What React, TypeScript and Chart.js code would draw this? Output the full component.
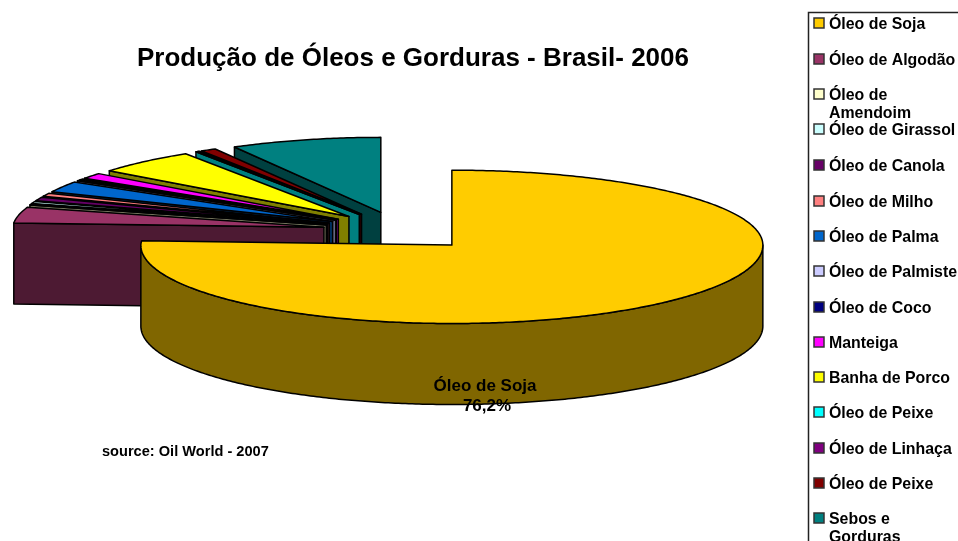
import React, { useEffect, useRef } from "react";
import { Chart, registerables } from "chart.js";

Chart.register(...registerables);

const titleText = "Produção de Óleos e Gorduras - Brasil- 2006";
const sourceText = "source: Oil World - 2007";
const categories = ["Óleo de Soja", "Óleo de Algodão", "Óleo de Amendoim", "Óleo de Girassol", "Óleo de Canola", "Óleo de Milho", "Óleo de Palma", "Óleo de Palmiste", "Óleo de Coco", "Manteiga", "Banha de Porco", "Óleo de Peixe", "Óleo de Linhaça", "Óleo de Peixe", "Sebos e Gorduras"];
const legendLines = [["Óleo de Soja"], ["Óleo de Algodão"], ["Óleo de", "Amendoim"], ["Óleo de Girassol"], ["Óleo de Canola"], ["Óleo de Milho"], ["Óleo de Palma"], ["Óleo de Palmiste"], ["Óleo de Coco"], ["Manteiga"], ["Banha de Porco"], ["Óleo de Peixe"], ["Óleo de Linhaça"], ["Óleo de Peixe"], ["Sebos e", "Gorduras"]];
const values = [76.2, 3.7, 0.2, 0.5, 0.8, 0.7, 2.3, 0.2, 0.2, 1.2, 5.2, 0.1, 0.1, 0.8, 7.8];
const colors = ["#FFCC00", "#993366", "#FFFFCC", "#CCFFFF", "#660066", "#FF8080", "#0066CC", "#CCCCFF", "#000080", "#FF00FF", "#FFFF00", "#00FFFF", "#800080", "#800000", "#008080"];
const wallColors = ["#806600", "#4D1A33", "#808066", "#668080", "#330033", "#804040", "#003366", "#666680", "#000040", "#800080", "#808000", "#008080", "#400040", "#400000", "#004040"];

const FONT = '"Liberation Sans", Arial, sans-serif';
const K_BACK = 0.241;
const K_FRONT = 0.252;
const DEPTH = 81;
const LEFT_BACK_FLATTEN = 1.1;

const pie3dPlugin = {
  id: "pie3d",
  beforeDatasetDraw(chart: any) {
    const ctx = chart.ctx;
    const arcs = chart.getDatasetMeta(0).data;
    ctx.save();
    ctx.lineWidth = 1.5;
    ctx.strokeStyle = "#000";
    ctx.lineJoin = "round";
    for (let i = arcs.length - 1; i >= 0; i--) {
      const arc = arcs[i];
      const { x, y, startAngle, endAngle, outerRadius } = arc;
      const off = arc.options.offset;
      const mid = (startAngle + endAngle) / 2;
      const ax = x + off * Math.cos(mid);
      const ay = y + off * Math.sin(mid) * 0.25;
      const pt = (a: number): [number, number] => {
        const s = Math.sin(a);
        const c = Math.cos(a);
        const ys = s > 0 ? s * K_FRONT : c < 0 ? -Math.pow(-s, LEFT_BACK_FLATTEN) * K_BACK : s * K_BACK;
        return [ax + outerRadius * c, ay + outerRadius * ys];
      };
      const face = (pts: [number, number][], fill: string) => {
        ctx.beginPath();
        pts.forEach((p, n) => (n ? ctx.lineTo(p[0], p[1]) : ctx.moveTo(p[0], p[1])));
        ctx.closePath();
        ctx.fillStyle = fill;
        ctx.fill();
        ctx.stroke();
      };
      const radialWall = (a: number) => {
        const p = pt(a);
        face([[ax, ay], p, [p[0], p[1] + DEPTH], [ax, ay + DEPTH]], wallColors[i]);
      };
      const tStart = startAngle + Math.PI / 2;
      const tEnd = endAngle + Math.PI / 2;
      if (Math.sin(tStart) < 0) radialWall(startAngle);
      if (Math.sin(tEnd) > 0) radialWall(endAngle);
      const lo = Math.max(startAngle, 0);
      const hi = Math.min(endAngle, Math.PI);
      if (hi > lo) {
        const top: [number, number][] = [];
        const bottom: [number, number][] = [];
        const n = Math.ceil((hi - lo) * 90);
        for (let s = 0; s <= n; s++) {
          const p = pt(lo + ((hi - lo) * s) / n);
          top.push(p);
          bottom.unshift([p[0], p[1] + DEPTH]);
        }
        face([...top, ...bottom], wallColors[i]);
      }
      const pts: [number, number][] = [[ax, ay]];
      const n = Math.max(2, Math.ceil((endAngle - startAngle) * 90));
      for (let s = 0; s <= n; s++) pts.push(pt(startAngle + ((endAngle - startAngle) * s) / n));
      face(pts, colors[i]);
    }
    ctx.restore();
    return false;
  },
  afterDraw(chart: any) {
    const ctx = chart.ctx;
    ctx.save();
    ctx.fillStyle = "#000";
    ctx.textBaseline = "alphabetic";

    ctx.font = `bold 26px ${FONT}`;
    ctx.textAlign = "center";
    ctx.fillText(titleText, 413, 66);

    ctx.font = `bold 17px ${FONT}`;
    ctx.fillText(categories[0], 485, 391);
    const total = values.reduce((s, v) => s + v, 0);
    ctx.fillText(((values[0] / total) * 100).toFixed(1).replace(".", ",") + "%", 487, 411);

    ctx.textAlign = "left";
    ctx.font = `bold 14.6px ${FONT}`;
    ctx.fillText(sourceText, 102, 456);

    ctx.strokeStyle = "#222";
    ctx.lineWidth = 1.5;
    ctx.strokeRect(808.5, 12.5, 160, 540);

    ctx.font = `bold 15.9px ${FONT}`;
    const rowY = [23, 59, 94, 129, 165, 201, 236, 271, 307, 342, 377, 412, 448, 483, 518];
    legendLines.forEach((lines, i) => {
      ctx.fillStyle = colors[i];
      ctx.strokeStyle = "#333";
      ctx.lineWidth = 1.5;
      ctx.fillRect(814, rowY[i] - 5, 10, 10);
      ctx.strokeRect(814, rowY[i] - 5, 10, 10);
      ctx.fillStyle = "#000";
      lines.forEach((line, n) => ctx.fillText(line, 829, rowY[i] + 6 + n * 18));
    });
    ctx.restore();
  },
};

export default function App() {
  const ref = useRef<HTMLCanvasElement>(null);
  useEffect(() => {
    const chart = new Chart(ref.current!, {
      type: "pie",
      data: {
        labels: categories,
        datasets: [{ data: values, backgroundColor: colors, offset: 77, radius: 311 } as any],
      },
      options: {
        responsive: false,
        animation: false,
        layout: { padding: { left: 0, top: 0, right: 159, bottom: 79 } },
        plugins: { legend: { display: false }, title: { display: false }, tooltip: { enabled: false } },
      },
      plugins: [pie3dPlugin as any],
    });
    return () => chart.destroy();
  }, []);
  return (
    <div style={{ position: "absolute", left: 0, top: 0, width: 958, height: 541, overflow: "hidden", background: "#fff" }}>
      <canvas ref={ref} width={958} height={541} style={{ display: "block" }} />
    </div>
  );
}
